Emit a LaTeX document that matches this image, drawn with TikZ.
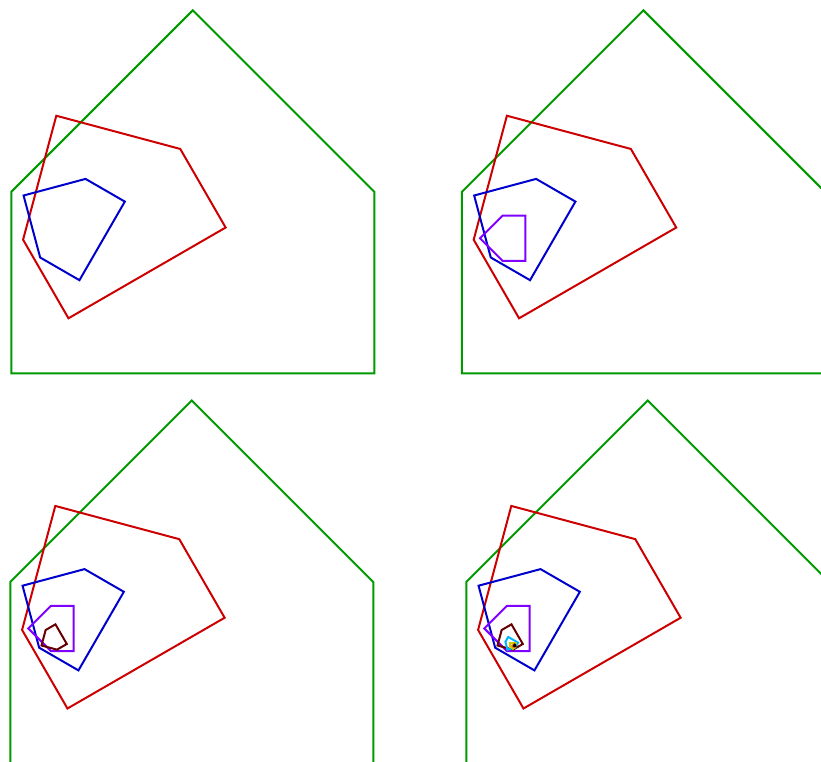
\documentclass[tikz,border=0pt]{standalone}
\usepackage{tikz}
\definecolor{cgreen}{RGB}{0,153,0}
\definecolor{cred}{RGB}{204,0,0}
\definecolor{cblue}{RGB}{0,0,204}
\definecolor{cpurple}{RGB}{127,0,255}
\definecolor{cmaroon}{RGB}{102,0,0}
\definecolor{ccyan}{RGB}{0,180,255}
\definecolor{cyellow}{RGB}{204,204,0}
\definecolor{corange}{RGB}{255,128,0}
\definecolor{cblack}{RGB}{0,0,0}
\tikzset{
  house/.style={line width=2pt, line join=miter},
  lvl0/.style={house, draw=cgreen},
  lvl1/.style={house, draw=cred},
  lvl2/.style={house, draw=cblue},
  lvl3/.style={house, draw=cpurple},
  lvl4/.style={house, draw=cmaroon},
  lvl5/.style={house, draw=ccyan},
  lvl6/.style={house, draw=cyellow},
  lvl7/.style={house, draw=corange},
  lvl8/.style={house, draw=cblack},
  panel/.style={x=181.5pt, y=181.5pt}
}
\newcommand{\houselevels}[1]{%
  \foreach \k in {0,...,#1} {%
    \begin{scope}[shift={(0.2677,0.6526)}, rotate=30*\k, scale={0.5^\k}, shift={(-0.2677,-0.6526)}]
      \draw[lvl\k] (0,0) -- (2,0) -- (2,1) -- (1,2) -- (0,1) -- cycle;
    \end{scope}
  }%
}
\begin{document}
\begin{tikzpicture}[x=1pt, y=-1pt]
  \useasboundingbox (0,0) rectangle (821,761);
  \clip (0,0) rectangle (821,761);
  % top-left panel
  \begin{scope}[shift={(11.3pt,-373.3pt)}, panel]
    \houselevels{2}
  \end{scope}
  % top-right panel
  \begin{scope}[shift={(461.9pt,-373.3pt)}, panel]
    \houselevels{3}
  \end{scope}
  % bottom-left panel
  \begin{scope}[shift={(10.3pt,-763.5pt)}, panel]
    \houselevels{4}
  \end{scope}
  % bottom-right panel
  \begin{scope}[shift={(466.3pt,-763.5pt)}, panel]
    \houselevels{8}
  \end{scope}
\end{tikzpicture}
\end{document}
